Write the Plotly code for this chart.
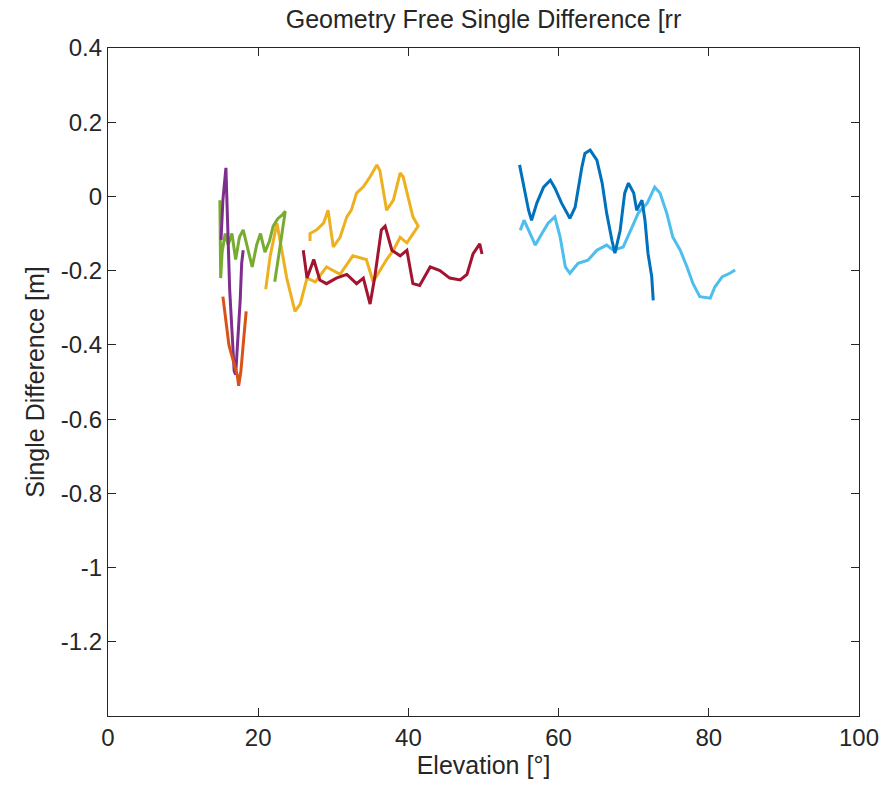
import plotly.graph_objects as go

# Elevation [deg] and single difference [m]
lb_x = [54.9, 55.4, 56.0, 56.9, 57.8, 58.6, 59.5, 60.2, 60.9, 61.5, 62.6, 63.9, 65.1, 66.4, 67.3, 68.6,
        69.8, 70.6, 71.8, 72.8, 73.5, 74.4, 75.2, 76.2, 77.1, 77.9, 78.8, 80.2, 80.8, 81.8, 82.8, 83.5]
lb_y = [-0.091, -0.064, -0.091, -0.131, -0.099, -0.072, -0.055, -0.109, -0.19, -0.207, -0.18, -0.172,
        -0.145, -0.131, -0.145, -0.136, -0.082, -0.045, -0.018, 0.025, 0.009, -0.045, -0.109, -0.145,
        -0.19, -0.235, -0.27, -0.274, -0.244, -0.216, -0.207, -0.198]

db_x = [54.8, 55.4, 56.0, 56.4, 57.1, 58.0, 58.9, 59.5, 60.4, 61.5, 62.2, 63.1, 63.5, 64.2, 65.1, 65.8,
        66.4, 67.1, 67.5, 68.2, 68.8, 69.3, 70.0, 70.4, 71.1, 71.5, 71.9, 72.4, 72.6]
db_y = [0.085, 0.025, -0.037, -0.064, -0.018, 0.025, 0.044, 0.023, -0.018, -0.059, -0.029, 0.079, 0.116,
        0.125, 0.098, 0.036, -0.045, -0.118, -0.153, -0.091, 0.009, 0.036, 0.009, -0.037, -0.01, -0.064,
        -0.153, -0.216, -0.28]

yl_x = [21.0, 21.6, 22.5, 23.2, 23.8, 24.9, 25.6, 26.5, 27.6, 29.1, 30.9, 32.6, 34.4, 35.3, 37.1, 38.0,
        38.9, 39.8, 40.6, 41.3, 41.3, 40.6, 39.3, 38.9, 38.0, 37.1, 36.2, 35.8, 34.9, 34.0, 33.1, 32.4,
        31.8, 30.9, 30.0, 29.3, 28.7, 27.8, 26.9, 26.9]
yl_y = [-0.25, -0.16, -0.072, -0.15, -0.22, -0.31, -0.29, -0.22, -0.23, -0.19, -0.21, -0.16, -0.17,
        -0.23, -0.17, -0.145, -0.11, -0.125, -0.10, -0.08, -0.08, -0.055, 0.053, 0.063, -0.01, -0.037,
        0.07, 0.085, 0.053, 0.026, 0.009, -0.037, -0.055, -0.11, -0.136, -0.037, -0.072, -0.09, -0.10,
        -0.12]

rd_x = [26.0, 26.5, 27.4, 28.2, 29.1, 30.4, 31.8, 33.1, 34.0, 34.9, 35.5, 36.4, 36.9, 37.8, 38.9, 39.8,
        40.6, 41.5, 42.9, 44.2, 45.5, 46.9, 47.8, 48.6, 49.5, 49.8]
rd_y = [-0.145, -0.22, -0.17, -0.225, -0.235, -0.22, -0.21, -0.235, -0.22, -0.29, -0.22, -0.09, -0.08,
        -0.145, -0.16, -0.145, -0.235, -0.24, -0.19, -0.2, -0.22, -0.225, -0.21, -0.155, -0.128, -0.155]

gr_x = [14.9, 15.0, 15.2, 15.6, 16.0, 16.5, 17.0, 17.5, 18.0, 18.6, 19.2, 19.8, 20.3, 20.9, 21.5, 22.0,
        22.6, 23.2, 23.6, 22.8, 22.2]
gr_y = [-0.01, -0.22, -0.15, -0.10, -0.13, -0.10, -0.17, -0.11, -0.09, -0.14, -0.19, -0.13, -0.10,
        -0.15, -0.12, -0.08, -0.06, -0.05, -0.04, -0.15, -0.23]

pu_x = [15.05, 15.3, 15.7, 16.0, 16.2, 16.5, 16.8, 17.0, 17.3, 17.6, 17.8, 18.0]
pu_y = [-0.117, -0.01, 0.077, -0.09, -0.25, -0.36, -0.47, -0.48, -0.39, -0.28, -0.18, -0.145]

or_x = [15.3, 15.7, 16.1, 16.5, 16.9, 17.2, 17.4, 17.7, 18.0, 18.4]
or_y = [-0.27, -0.33, -0.40, -0.43, -0.455, -0.48, -0.51, -0.47, -0.40, -0.31]

series = [
    (lb_x, lb_y, "#4DBEEE"),
    (db_x, db_y, "#0072BD"),
    (yl_x, yl_y, "#EDB120"),
    (rd_x, rd_y, "#A2142F"),
    (gr_x, gr_y, "#77AC30"),
    (pu_x, pu_y, "#7E2F8E"),
    (or_x, or_y, "#D95319"),
]

x_ticks = [0, 20, 40, 60, 80, 100]
y_ticks = [0.4, 0.2, 0, -0.2, -0.4, -0.6, -0.8, -1, -1.2]
y_labels = ["0.4", "0.2", "0", "-0.2", "-0.4", "-0.6", "-0.8", "-1", "-1.2"]

fig = go.Figure()
for xs, ys, c in series:
    fig.add_trace(go.Scatter(x=xs, y=ys, mode="lines", line=dict(color=c, width=3),
                             showlegend=False, hoverinfo="skip"))

font = "Liberation Sans, Arial, Helvetica, sans-serif"
axcol = "#262626"
fig.update_layout(
    width=893, height=788,
    margin=dict(l=108, r=34, t=48, b=72),
    paper_bgcolor="white", plot_bgcolor="white",
    font=dict(family=font, size=24, color=axcol),
    title=dict(text="Geometry Free Single Difference [rr", x=0.5, xref="paper",
               y=1 - 19 / 788, yref="container", yanchor="middle", xanchor="center",
               font=dict(family=font, size=25, color=axcol)),
)
fig.update_xaxes(range=[0, 100], tickvals=x_ticks, ticktext=[str(v) for v in x_ticks],
                 showgrid=False, zeroline=False, showline=True, linecolor=axcol, linewidth=1.2,
                 mirror="allticks", ticks="inside", ticklen=8, tickcolor=axcol, tickwidth=1,
                 title=dict(text="Elevation [°]", standoff=6, font=dict(size=25)),
                 tickfont=dict(size=24))
fig.update_yaxes(range=[-1.4, 0.4], tickvals=y_ticks, ticktext=y_labels,
                 showgrid=False, zeroline=False, showline=True, linecolor=axcol, linewidth=1.2,
                 mirror="allticks", ticks="inside", ticklen=8, tickcolor=axcol, tickwidth=1,
                 title=dict(text="Single Difference [m]", standoff=8, font=dict(size=25)),
                 tickfont=dict(size=24))

fig.write_html("out.html")
